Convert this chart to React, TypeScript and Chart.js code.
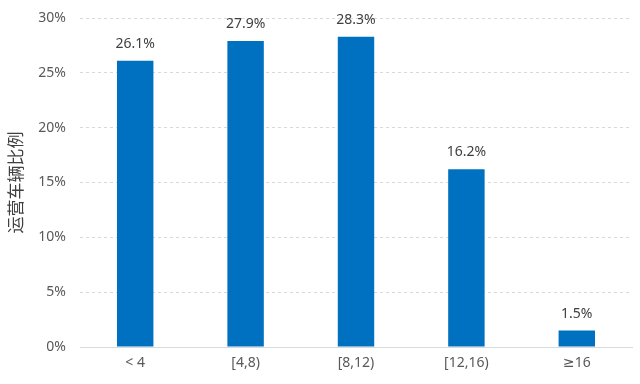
import React, { useEffect, useRef } from "react";
import { Chart, registerables } from "chart.js";

Chart.register(...registerables);

const categories = ["< 4", "[4,8)", "[8,12)", "[12,16)", "≥16"];
const shares = [26.1, 27.9, 28.3, 16.2, 1.5];
const yTitle = "运营车辆比例";

const FONT = "'Noto Sans', 'DejaVu Sans', 'Noto Sans CJK SC', sans-serif";

const labelPlugin = {
  id: "barLabels",
  afterDatasetsDraw(chart: any) {
    const ctx = chart.ctx;
    const meta = chart.getDatasetMeta(0);
    ctx.save();
    ctx.font = `14px ${FONT}`;
    ctx.fillStyle = "#404040";
    ctx.textAlign = "center";
    ctx.textBaseline = "bottom";
    meta.data.forEach((el: any, i: number) => {
      ctx.fillText(shares[i].toFixed(1) + "%", el.x, el.y - 10);
    });
    ctx.restore();
  },
};

export default function App() {
  const ref = useRef<HTMLCanvasElement | null>(null);
  useEffect(() => {
    document.body.style.margin = "0";
    const chart = new Chart(ref.current as HTMLCanvasElement, {
      type: "bar",
      data: {
        labels: categories,
        datasets: [
          {
            data: shares,
            backgroundColor: "#0070C0",
            barPercentage: 0.33,
            categoryPercentage: 1,
          },
        ],
      },
      plugins: [labelPlugin],
      options: {
        animation: false,
        responsive: false,
        maintainAspectRatio: false,
        layout: { padding: { top: 0, right: 8, left: 2, bottom: 0 } },
        plugins: { legend: { display: false }, tooltip: { enabled: false } },
        scales: {
          x: {
            grid: { display: false, drawTicks: false },
            border: { display: true, color: "#D9D9D9" },
            ticks: { color: "#595959", font: { size: 14, family: FONT }, padding: 8 },
            afterFit: (s: any) => {
              s.height = 37;
            },
          },
          y: {
            min: 0,
            max: 30,
            ticks: {
              stepSize: 5,
              color: "#595959",
              font: { size: 14, family: FONT },
              padding: 14,
              callback: (v: any) => v + "%",
            },
            grid: { color: "#D9D9D9", drawTicks: false },
            border: { display: false, dash: [3, 3] },
            title: {
              display: true,
              text: yTitle,
              color: "#404040",
              font: { size: 17, family: "'Noto Sans CJK SC', sans-serif" },
              padding: { top: 3, bottom: 0 },
            },
            afterFit: (s: any) => {
              s.width = 78;
              s.paddingTop = 18;
              s.paddingBottom = 0;
            },
          },
        },
      },
    });
    return () => chart.destroy();
  }, []);
  return <canvas ref={ref} width={640} height={384} style={{ display: "block" }} />;
}
